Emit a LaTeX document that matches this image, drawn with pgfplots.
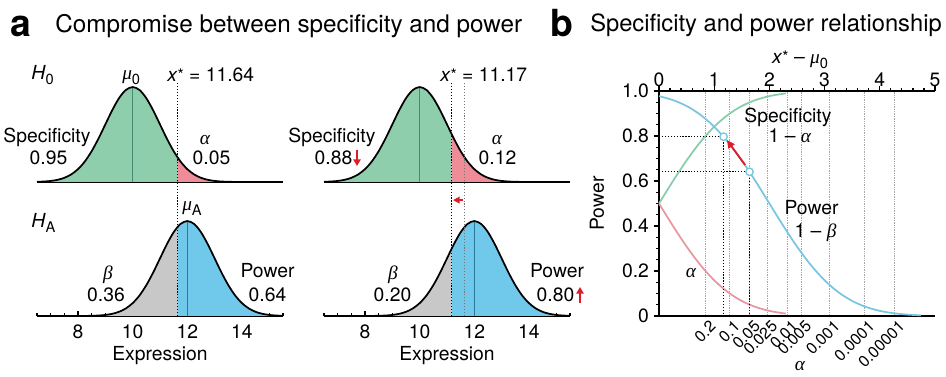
\documentclass[border=0pt]{standalone}
\usepackage{fontspec}
\setmainfont{TeX Gyre Heros}
\newfontfamily\grkf{Liberation Serif}
\usepackage{pgfplots}
\usepackage{pgfplotstable}
\pgfplotsset{compat=1.18}
\usetikzlibrary{arrows.meta}

\definecolor{GreenF}{RGB}{142,206,172}
\definecolor{GreenD}{RGB}{70,140,110}
\definecolor{PinkF}{RGB}{238,140,152}
\definecolor{BlueF}{RGB}{112,200,235}
\definecolor{BlueD}{RGB}{40,120,160}
\definecolor{GrayF}{RGB}{200,200,200}
\definecolor{BlueL}{RGB}{120,198,225}
\definecolor{GreenL}{RGB}{135,205,170}
\definecolor{RedL}{RGB}{232,150,160}
\definecolor{ArrowRed}{RGB}{220,30,40}

\newcommand\lf{\fontsize{14.5}{17}\selectfont}
\newcommand\sub[1]{\raisebox{-0.4ex}{\fontsize{11}{12}\selectfont #1}}
\newcommand\ga{{\grkf\itshape α}}
\newcommand\gb{{\grkf\itshape β}}
\newcommand\gm{{\grkf\itshape μ}}
\newcommand\xs{\textit{x}{\fontsize{12}{12}\selectfont\raisebox{0.15ex}{*}}}

\tikzset{
  dotk/.style={black, line width=1.1pt, dash pattern=on 0.9pt off 1.3pt},
  dotg/.style={black!55, line width=0.9pt, dash pattern=on 0.8pt off 1.4pt},
}

% ---- H0 density (mu = 10, sd = 1), full curve
\pgfplotstableread{
x y
6.5 0.00087
6.75 0.00203
7.0 0.00443
7.25 0.00909
7.5 0.01753
7.75 0.03174
8.0 0.05399
8.25 0.08628
8.5 0.12952
8.75 0.18265
9.0 0.24197
9.25 0.30114
9.5 0.35207
9.75 0.38667
10.0 0.39894
10.25 0.38667
10.5 0.35207
10.75 0.30114
11.0 0.24197
11.25 0.18265
11.5 0.12952
11.75 0.08628
12.0 0.05399
12.25 0.03174
12.5 0.01753
12.75 0.00909
13.0 0.00443
13.25 0.00203
13.5 0.00087
13.75 0.00035
14.0 0.00013
14.75 0.0
15.5 0.0
}\hzero

% ---- HA density (mu = 12, sd = 1), full curve
\pgfplotstableread{
x y
6.5 0.0
7.25 0.0
8.0 0.00013
8.25 0.00035
8.5 0.00087
8.75 0.00203
9.0 0.00443
9.25 0.00909
9.5 0.01753
9.75 0.03174
10.0 0.05399
10.25 0.08628
10.5 0.12952
10.75 0.18265
11.0 0.24197
11.25 0.30114
11.5 0.35207
11.75 0.38667
12.0 0.39894
12.25 0.38667
12.5 0.35207
12.75 0.30114
13.0 0.24197
13.25 0.18265
13.5 0.12952
13.75 0.08628
14.0 0.05399
14.25 0.03174
14.5 0.01753
14.75 0.00909
15.0 0.00443
15.25 0.00203
15.5 0.00087
}\hA

% ---- shaded parts
\pgfplotstableread{
x y
6.5 0.00087
6.75 0.00203
7.0 0.00443
7.25 0.00909
7.5 0.01753
7.75 0.03174
8.0 0.05399
8.25 0.08628
8.5 0.12952
8.75 0.18265
9.0 0.24197
9.25 0.30114
9.5 0.35207
9.75 0.38667
10.0 0.39894
10.25 0.38667
10.5 0.35207
10.75 0.30114
11.0 0.24197
11.25 0.18265
11.5 0.12952
11.64 0.10396
}\hzeroLa

\pgfplotstableread{
x y
11.64 0.10396
11.75 0.08628
12.0 0.05399
12.25 0.03174
12.5 0.01753
12.75 0.00909
13.0 0.00443
13.25 0.00203
13.5 0.00087
13.75 0.00035
14.0 0.00013
14.75 0.0
15.5 0.0
}\hzeroRa

\pgfplotstableread{
x y
6.5 0.00087
6.75 0.00203
7.0 0.00443
7.25 0.00909
7.5 0.01753
7.75 0.03174
8.0 0.05399
8.25 0.08628
8.5 0.12952
8.75 0.18265
9.0 0.24197
9.25 0.30114
9.5 0.35207
9.75 0.38667
10.0 0.39894
10.25 0.38667
10.5 0.35207
10.75 0.30114
11.0 0.24197
11.17 0.20121
}\hzeroLb

\pgfplotstableread{
x y
11.17 0.20121
11.25 0.18265
11.5 0.12952
11.75 0.08628
12.0 0.05399
12.25 0.03174
12.5 0.01753
12.75 0.00909
13.0 0.00443
13.25 0.00203
13.5 0.00087
13.75 0.00035
14.0 0.00013
14.75 0.0
15.5 0.0
}\hzeroRb

\pgfplotstableread{
x y
6.5 0.0
7.25 0.0
8.0 0.00013
8.25 0.00035
8.5 0.00087
8.75 0.00203
9.0 0.00443
9.25 0.00909
9.5 0.01753
9.75 0.03174
10.0 0.05399
10.25 0.08628
10.5 0.12952
10.75 0.18265
11.0 0.24197
11.25 0.30114
11.5 0.35207
11.64 0.37391
}\hALa

\pgfplotstableread{
x y
11.64 0.37391
11.75 0.38667
12.0 0.39894
12.25 0.38667
12.5 0.35207
12.75 0.30114
13.0 0.24197
13.25 0.18265
13.5 0.12952
13.75 0.08628
14.0 0.05399
14.25 0.03174
14.5 0.01753
14.75 0.00909
15.0 0.00443
15.25 0.00203
15.5 0.00087
}\hARa

\pgfplotstableread{
x y
6.5 0.0
7.25 0.0
8.0 0.00013
8.25 0.00035
8.5 0.00087
8.75 0.00203
9.0 0.00443
9.25 0.00909
9.5 0.01753
9.75 0.03174
10.0 0.05399
10.25 0.08628
10.5 0.12952
10.75 0.18265
11.0 0.24197
11.17 0.28269
}\hALb

\pgfplotstableread{
x y
11.17 0.28269
11.25 0.30114
11.5 0.35207
11.75 0.38667
12.0 0.39894
12.25 0.38667
12.5 0.35207
12.75 0.30114
13.0 0.24197
13.25 0.18265
13.5 0.12952
13.75 0.08628
14.0 0.05399
14.25 0.03174
14.5 0.01753
14.75 0.00909
15.0 0.00443
15.25 0.00203
15.5 0.00087
}\hARb

\pgfplotsset{
  /pgf/number format/assume math mode=true,
  distax/.style={scale only axis, width=184.5pt, height=89.25pt,
    xmin=6.5, xmax=15.5, ymin=0, ymax=0.5,
    axis y line=none, axis x line=bottom,
    axis line style={-, line width=1.3pt},
    clip=false, anchor=south west, ytick=\empty},
  topax/.style={distax, xtick=\empty},
  botax/.style={distax, xtick={8,10,12,14},
    minor xtick={6.5,7,...,15.5},
    xtick align=inside,
    major tick length=3.5pt, minor tick length=2.2pt,
    every tick/.style={black, line width=0.9pt},
    xticklabel style={font=\lf, yshift=-3pt},
    xlabel={Expression},
    xlabel style={font=\lf, at={(axis description cs:0.5,-0.378)}, anchor=base}},
  shade/.style={draw=none, fill=#1, smooth},
}

\begin{document}
\begin{tikzpicture}

% ---------- top-left (H0, x*=11.64)
\begin{axis}[topax, at={(27.75pt,-136.5pt)}]
\addplot[shade=GreenF] table[x=x,y=y]{\hzeroLa} \closedcycle;
\addplot[shade=PinkF] table[x=x,y=y]{\hzeroRa} \closedcycle;
\draw[GreenD, line width=0.6pt] (axis cs:10,0) -- (axis cs:10,0.3989);
\addplot[black, line width=1.3pt, smooth] table[x=x,y=y]{\hzero};
\end{axis}

% ---------- top-right (H0, x*=11.17)
\begin{axis}[topax, at={(243pt,-136.5pt)}]
\addplot[shade=GreenF] table[x=x,y=y]{\hzeroLb} \closedcycle;
\addplot[shade=PinkF] table[x=x,y=y]{\hzeroRb} \closedcycle;
\draw[GreenD, line width=0.6pt] (axis cs:10,0) -- (axis cs:10,0.3989);
\addplot[black, line width=1.3pt, smooth] table[x=x,y=y]{\hzero};
\end{axis}

% ---------- bottom-left (HA, x*=11.64)
\begin{axis}[botax, at={(27.75pt,-237pt)}]
\addplot[shade=GrayF] table[x=x,y=y]{\hALa} \closedcycle;
\addplot[shade=BlueF] table[x=x,y=y]{\hARa} \closedcycle;
\draw[BlueD, line width=0.6pt] (axis cs:12,0) -- (axis cs:12,0.3989);
\addplot[black, line width=1.3pt, smooth] table[x=x,y=y]{\hA};
\draw[dotk] (axis cs:11.64,0) -- (axis cs:11.64,0.979);
\end{axis}

% ---------- bottom-right (HA, x*=11.17)
\begin{axis}[botax, at={(243pt,-237pt)}]
\addplot[shade=GrayF] table[x=x,y=y]{\hALb} \closedcycle;
\addplot[shade=BlueF] table[x=x,y=y]{\hARb} \closedcycle;
\draw[BlueD, line width=0.6pt] (axis cs:12,0) -- (axis cs:12,0.3989);
\addplot[black, line width=1.3pt, smooth] table[x=x,y=y]{\hA};
\draw[dotk] (axis cs:11.17,0) -- (axis cs:11.17,0.979);
\draw[dotg] (axis cs:11.64,0) -- (axis cs:11.64,0.979);
\draw[ArrowRed, line width=1.3pt, -{Triangle[length=5pt,width=5pt]}] (axis cs:11.60,0.487) -- (axis cs:11.22,0.487);
\end{axis}

% ---------- panel b: alpha grid + bottom axis
\begin{axis}[at={(494.25pt,-237pt)}, anchor=south west, scale only axis,
  width=207pt, height=168.75pt, xmin=0, xmax=5, ymin=0, ymax=1,
  axis x line=bottom, axis y line=none, axis line style={-, line width=1.3pt},
  xtick={0.8416,1.2816,1.6449,1.9600,2.3263,2.5758,3.0902,3.7190,4.2649},
  xticklabels={0.2,0.1,0.05,0.025,0.01,0.005,0.001,0.0001,0.00001},
  major tick length=0pt,
  xmajorgrids, grid style={black!35, line width=0.5pt, dash pattern=on 0.5pt off 0.8pt},
  xticklabel style={rotate=45, anchor=east, font=\fontsize{12}{14}\selectfont, inner sep=0pt, yshift=-8pt},
  xlabel={\ga}, xlabel style={font=\lf, at={(axis description cs:0.511,-0.24)}, anchor=base},
  ytick=\empty]
\addplot[draw=none] coordinates {(0,0) (5,1)};
\end{axis}

% ---------- panel b: main axis
\begin{axis}[at={(494.25pt,-237pt)}, anchor=south west, scale only axis,
  width=207pt, height=168.75pt, xmin=0, xmax=5, ymin=0, ymax=1,
  axis x line=top, axis y line=left, axis line style={-, line width=1.3pt},
  xtick={0,1,2,3,4,5}, minor x tick num=4,
  ytick={0,0.2,0.4,0.6,0.8,1.0}, yticklabels={0,0.2,0.4,0.6,0.8,1.0},
  minor y tick num=3,
  tick align=outside, major tick length=4pt, minor tick length=2.3pt,
  every tick/.style={black, line width=0.9pt},
  yticklabel style={font=\lf},
  xticklabel style={font=\lf, yshift=-4.5pt},
  xlabel={\xs\ -- \gm\sub{0}},
  xlabel style={font=\lf, at={(axis description cs:0.511,1.12)}, anchor=base},
  ylabel={Power},
  ylabel style={font=\lf, at={(axis description cs:-0.2246,0.5)}, anchor=center},
  clip=false]
\addplot[GreenL, line width=1.3pt, smooth] coordinates {(0,0.5) (0.25,0.59871) (0.5,0.69146) (0.75,0.77337) (1,0.84134) (1.25,0.89435) (1.5,0.93319) (1.75,0.95994) (2,0.97725) (2.25,0.98778) (2.3,0.98928)};
\addplot[RedL, line width=1.3pt, smooth] coordinates {(0,0.5) (0.25,0.40129) (0.5,0.30854) (0.75,0.22663) (1,0.15866) (1.25,0.10565) (1.5,0.06681) (1.75,0.04006) (2,0.02275) (2.25,0.01222) (2.3,0.01072)};
\addplot[BlueL, line width=1.3pt, smooth] coordinates {(0,0.97725) (0.25,0.95994) (0.5,0.93319) (0.75,0.89435) (1,0.84134) (1.25,0.77337) (1.5,0.69146) (1.75,0.59871) (2,0.5) (2.25,0.40129) (2.5,0.30854) (2.75,0.22663) (3,0.15866) (3.25,0.10565) (3.5,0.06681) (3.75,0.04006) (4,0.02275) (4.25,0.01222) (4.5,0.00621) (4.75,0.00298)};
\addplot[dotk, line width=0.9pt] coordinates {(0,0.797) (1.17,0.797) (1.17,0)};
\addplot[dotk, line width=0.9pt] coordinates {(0,0.641) (1.64,0.641) (1.64,0)};
\draw[ArrowRed, line width=1.4pt, -{Triangle[length=6pt,width=5.5pt]}] (axis cs:1.56,0.671) -- (axis cs:1.23,0.782);
\addplot[only marks, mark=*, mark size=2.8pt, mark options={fill=white, draw=BlueL, line width=1pt}] coordinates {(1.17,0.797) (1.64,0.641)};
\node[font=\lf, anchor=base] at (axis cs:2.337,0.858) {Specificity};
\node[font=\lf, anchor=base] at (axis cs:2.37,0.773) {1 -- \ga};
\node[font=\lf, anchor=base] at (axis cs:2.763,0.449) {Power};
\node[font=\lf, anchor=base] at (axis cs:2.835,0.351) {1 -- \gb};
\node[font=\lf, anchor=base] at (axis cs:0.58,0.169) {\ga};
\end{axis}

% ---------- free text (pixel grid of the reference)
\begin{scope}[x=0.75pt, y=-0.75pt]
\node[anchor=base, font=\fontsize{28}{30}\selectfont\bfseries] at (21,37) {a};
\node[anchor=base west, font=\fontsize{18.2}{20}\selectfont, inner sep=0pt] at (55,33) {Compromise between specificity and power};
\node[anchor=base, font=\fontsize{28}{30}\selectfont\bfseries] at (562,37) {b};
\node[anchor=base west, font=\fontsize{17.8}{20}\selectfont, inner sep=0pt] at (590,32) {Specificity and power relationship};

\node[anchor=base west, font=\lf, inner sep=0pt] at (31,80) {\textit{H}\sub{0}};
\node[anchor=base west, font=\lf, inner sep=0pt] at (122,80) {\gm\sub{0}};
\node[anchor=base west, font=\lf, inner sep=0pt] at (167,82) {\xs\ = 11.64};
\node[anchor=base, font=\lf] at (47,143) {Specificity};
\node[anchor=base, font=\lf] at (48.5,165) {0.95};
\node[anchor=base, font=\lf] at (205,145) {\ga};
\node[anchor=base, font=\lf] at (211.5,165) {0.05};

\node[anchor=base west, font=\lf, inner sep=0pt] at (440,82) {\xs\ = 11.17};
\node[anchor=base, font=\lf] at (332,143) {Specificity};
\node[anchor=base, font=\lf] at (333.5,165) {0.88};
\draw[ArrowRed, line width=1.5pt, -{Triangle[length=5pt,width=5.5pt]}] (357,150) -- (357,166);
\node[anchor=base, font=\lf] at (497,145) {\ga};
\node[anchor=base, font=\lf] at (497.5,165) {0.12};

\node[anchor=base west, font=\lf, inner sep=0pt] at (31,228) {\textit{H}\sub{A}};
\node[anchor=base west, font=\lf, inner sep=0pt] at (182,211) {\gm\sub{A}};
\node[anchor=base, font=\lf] at (108,280) {\gb};
\node[anchor=base, font=\lf] at (106,302) {0.36};
\node[anchor=base, font=\lf] at (267.5,278) {Power};
\node[anchor=base, font=\lf] at (267.5,302) {0.64};

\node[anchor=base, font=\lf] at (393,280) {\gb};
\node[anchor=base, font=\lf] at (392.5,302) {0.20};
\node[anchor=base, font=\lf] at (557,278) {Power};
\node[anchor=base, font=\lf] at (555.5,302) {0.80};
\draw[ArrowRed, line width=1.5pt, -{Triangle[length=5pt,width=5.5pt]}] (580,303) -- (580,287);
\end{scope}

\pgfresetboundingbox
\path[use as bounding box] (0,0) rectangle (709.5pt,-282.75pt);
\end{tikzpicture}
\end{document}
